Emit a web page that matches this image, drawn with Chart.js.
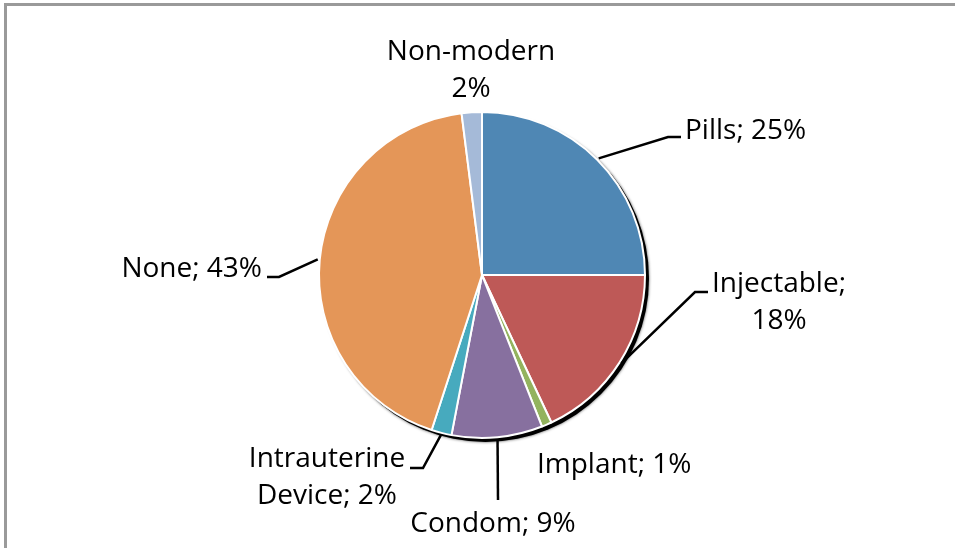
<!DOCTYPE html>
<html>
<head>
<meta charset="utf-8">
<script src="https://cdn.jsdelivr.net/npm/chart.js@4/dist/chart.umd.min.js"></script>
<style>
  html, body { margin: 0; padding: 0; background: #fff; }
  #wrap { position: relative; width: 955px; height: 548px; overflow: hidden; }
  #frame { position: absolute; left: 4px; top: 3px; right: -10px; bottom: -10px;
           border-left: 3px solid #9a9a9a; border-top: 3px solid #9a9a9a; }
  canvas { position: absolute; left: 0; top: 0; }
</style>
</head>
<body>
<div id="wrap">
  <div id="frame"></div>
  <canvas id="myChart" width="955" height="548"></canvas>
</div>
<script>
// chart values
const methods = ['Pills', 'Injectable', 'Implant', 'Condom', 'Intrauterine Device', 'None', 'Non-modern'];
const shares = [25, 18, 1, 9, 2, 43, 2];
const sliceColors = ['#4f87b4', '#be5957', '#93b35e', '#87709f', '#47aabe', '#e49658', '#a5bad8'];

// where each label sits (text lines, anchor, optional elbow for the leader line)
const labelLayout = [
    { lines: ['Pills; 25%'], x: 685, y: 131, align: 'left', elbow: [668, 137], end: 681 },
    { lines: ['Injectable;', '18%'], x: 779, y: 284, align: 'center', elbow: [695, 292], end: 708 },
    { lines: ['Implant; 1%'], x: 537, y: 465, align: 'left' },
    { lines: ['Condom; 9%'], x: 493, y: 524, align: 'center', elbow: [498, 500], end: 498 },
    { lines: ['Intrauterine', 'Device; 2%'], x: 327, y: 459, align: 'center', elbow: [423, 468], end: 410 },
    { lines: ['None; 43%'], x: 262, y: 269, align: 'right', elbow: [279, 277], end: 267 },
    { lines: ['Non-modern', '2%'], x: 471, y: 52, align: 'center' }
];

const shadowPlugin = {
    id: 'pieShadow',
    beforeDatasetsDraw(chart) {
        const arc = chart.getDatasetMeta(0).data[0];
        if (!arc) return;
        const ctx = chart.ctx;
        ctx.save();
        ctx.fillStyle = '#000';
        ctx.shadowColor = 'rgba(0,0,0,0.7)';
        ctx.shadowBlur = 3;
        ctx.beginPath();
        ctx.arc(arc.x + 3.5, arc.y + 3.5, arc.outerRadius + 0.5, 0, Math.PI * 2);
        ctx.fill();
        ctx.restore();
    }
};

const labelPlugin = {
    id: 'pieLabels',
    afterDatasetsDraw(chart) {
        const ctx = chart.ctx;
        const arcs = chart.getDatasetMeta(0).data;
        ctx.save();
        ctx.font = '28px "Open Sans"';
        ctx.fillStyle = '#000';
        ctx.strokeStyle = '#000';
        ctx.lineWidth = 2.5;
        ctx.textBaseline = 'middle';
        arcs.forEach((arc, i) => {
            const lay = labelLayout[i];
            if (lay.elbow) {
                const mid = (arc.startAngle + arc.endAngle) / 2;
                const r = arc.outerRadius + 2;
                ctx.beginPath();
                ctx.moveTo(arc.x + Math.cos(mid) * r, arc.y + Math.sin(mid) * r);
                ctx.lineTo(lay.elbow[0], lay.elbow[1]);
                ctx.lineTo(lay.end, lay.elbow[1]);
                ctx.stroke();
            }
            ctx.textAlign = lay.align;
            lay.lines.forEach((t, k) => {
                ctx.fillText(t, lay.x, lay.y + k * 37);
            });
        });
        ctx.restore();
    }
};

new Chart(document.getElementById('myChart'), {
    type: 'pie',
    data: {
        labels: methods,
        datasets: [{
            data: shares,
            backgroundColor: sliceColors,
            borderColor: '#fff',
            borderWidth: 2
        }]
    },
    options: {
        responsive: false,
        animation: false,
        layout: { padding: { top: 111, bottom: 109, left: 100, right: 91 } },
        plugins: {
            legend: { display: false },
            tooltip: { enabled: false }
        }
    },
    plugins: [shadowPlugin, labelPlugin]
});
</script>
</body>
</html>
